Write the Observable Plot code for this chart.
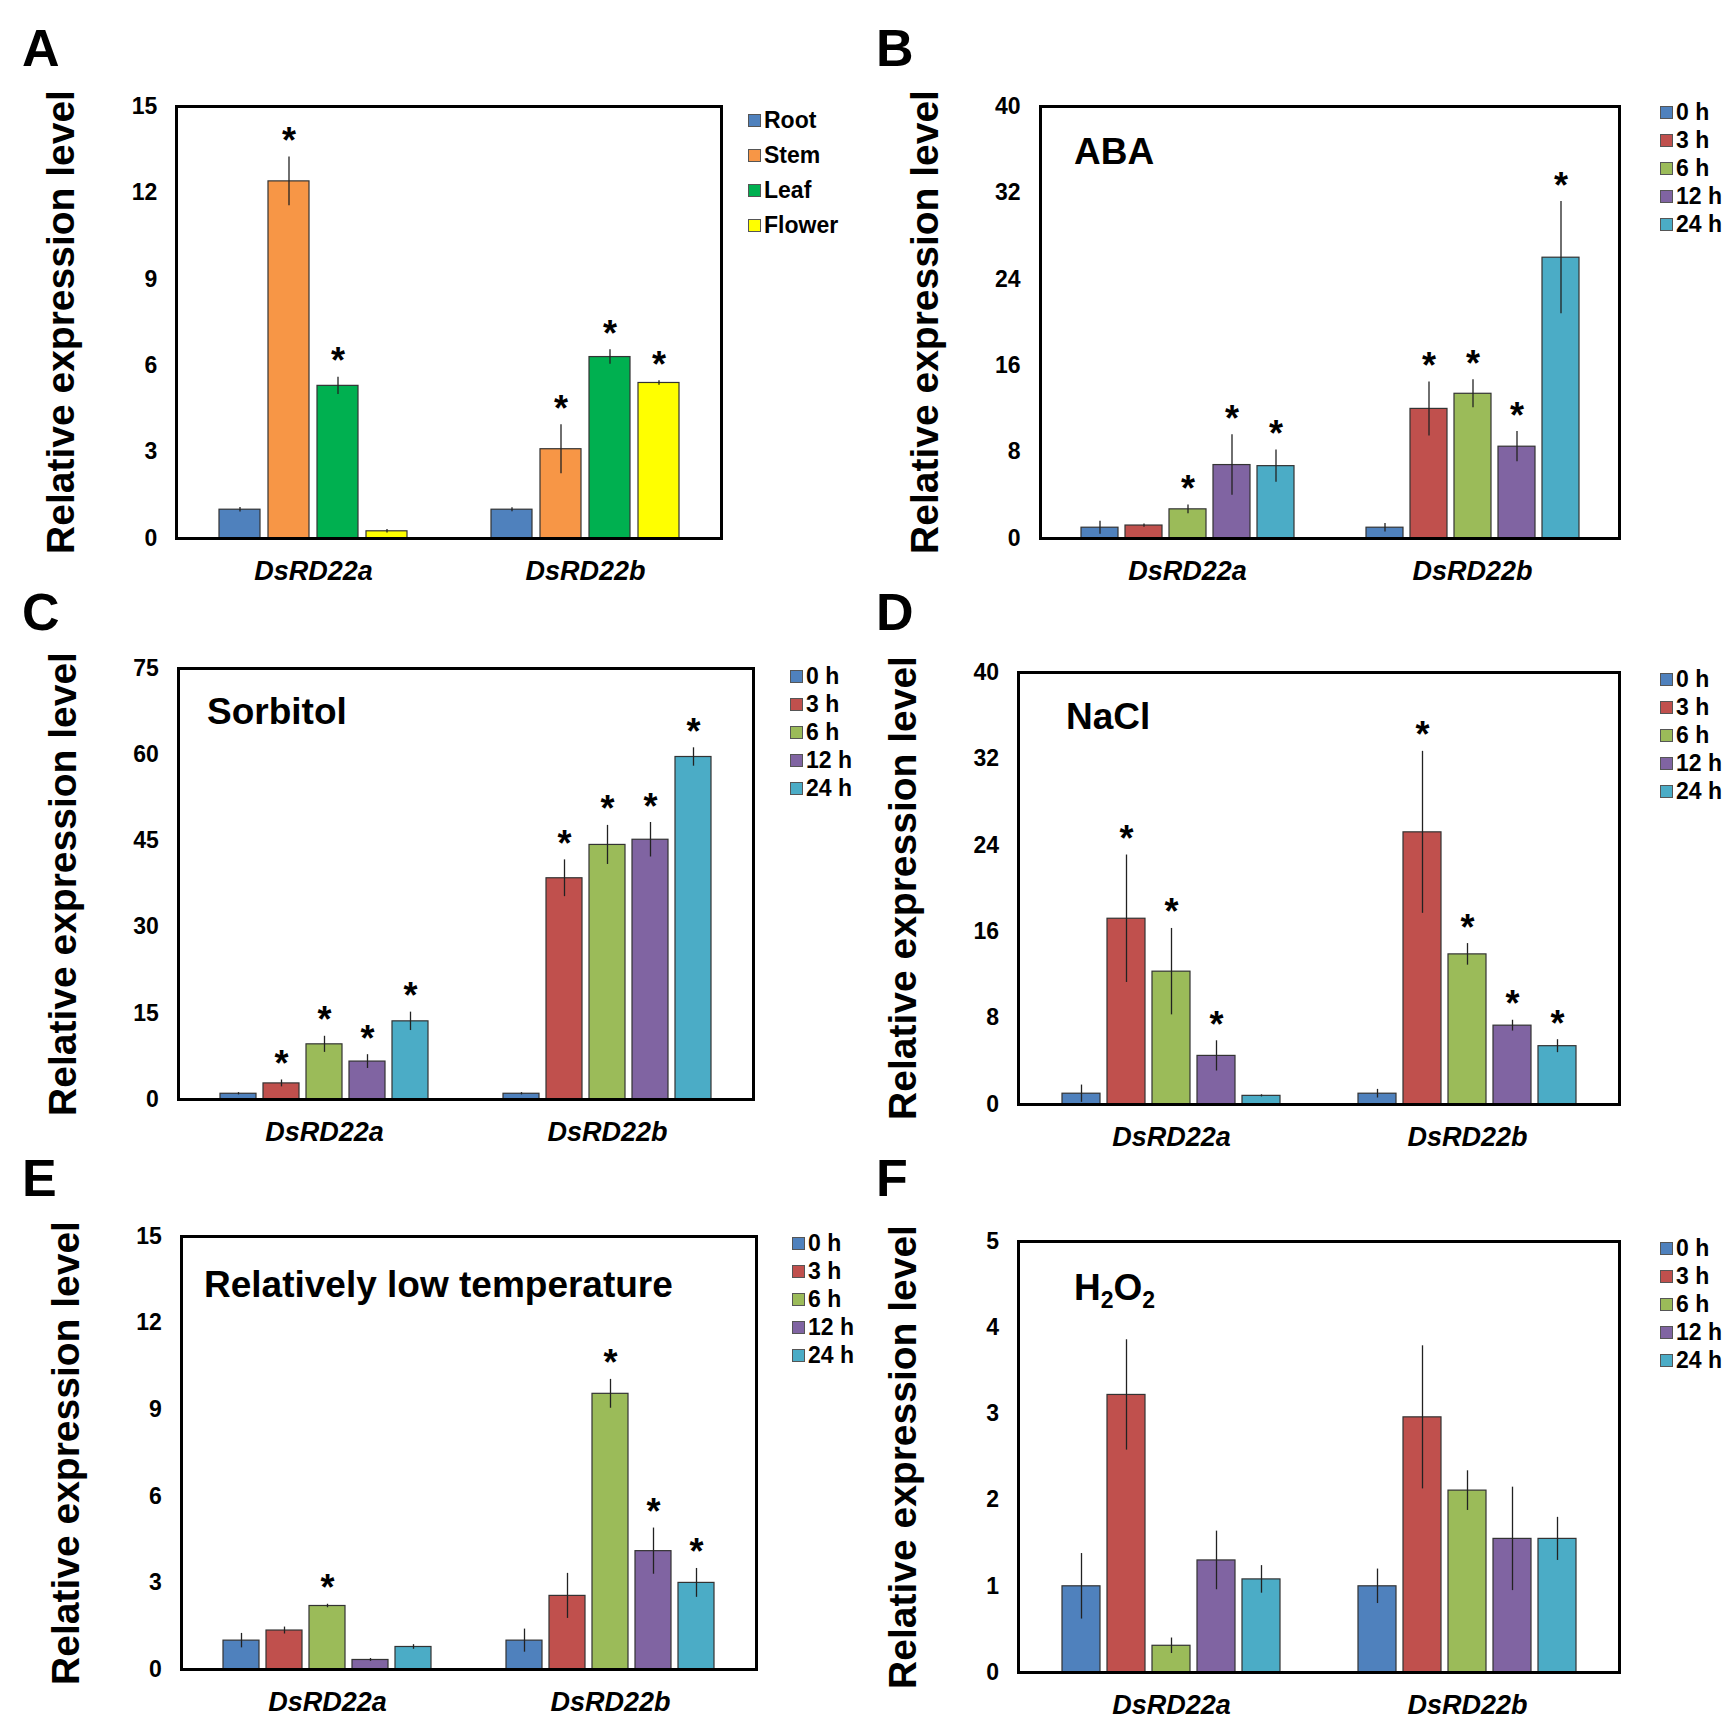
<!DOCTYPE html>
<html><head><meta charset="utf-8">
<script src="https://cdn.jsdelivr.net/npm/d3@7"></script>
<script src="https://cdn.jsdelivr.net/npm/@observablehq/plot@0.6"></script>
<style>
body{margin:0;background:#fff;font-family:"Liberation Sans",Arial,sans-serif;}
#root{position:relative;width:1736px;height:1727px;}
.abs{position:absolute;}
.letter{font-weight:bold;font-size:52px;}
.ylab{font-weight:bold;font-size:39px;transform:translate(-50%,-50%) rotate(-90deg);white-space:nowrap;}
.title{font-weight:bold;font-size:37px;}
.frame{border:3px solid #000;box-sizing:border-box;pointer-events:none;}
.leg{font-weight:bold;font-size:23px;line-height:28px;}
.leg span.sw{display:inline-block;width:11px;height:11px;border:1px solid #555;margin-right:3px;vertical-align:1px;}
svg [aria-label="fx-axis tick label"] text{font-style:italic;}
</style></head><body><div id="root"></div>
<script>
const genes = ["DsRD22a","DsRD22b"];
const tissues = ["Root","Stem","Leaf","Flower"];
const tissueColors = ["#4f81bd","#f79646","#00b050","#ffff00"];
const times = ["0 h","3 h","6 h","12 h","24 h"];
const timeColors = ["#4f81bd","#c0504d","#9bbb59","#8064a2","#4bacc6"];

// values [gene a, gene b], errors, significance
const A_val = [[1.0,12.4,5.3,0.25],[1.0,3.1,6.3,5.4]];
const A_err = [[0.08,0.85,0.3,0.06],[0.07,0.85,0.25,0.08]];
const A_sig = [[0,1,1,0],[0,1,1,1]];
const B_val = [[1.0,1.2,2.7,6.8,6.7],[1.0,12.0,13.4,8.5,26.0]];
const B_err = [[0.6,0.15,0.4,2.8,1.5],[0.4,2.5,1.3,1.4,5.2]];
const B_sig = [[0,0,1,1,1],[0,1,1,1,1]];
const C_val = [[1.0,2.8,9.6,6.6,13.6],[1.0,38.5,44.3,45.2,59.6]];
const C_err = [[0.2,0.6,1.4,1.2,1.6],[0.2,3.2,3.4,3.0,1.6]];
const C_sig = [[0,1,1,1,1],[0,1,1,1,1]];
const D_val = [[1.0,17.2,12.3,4.5,0.8],[1.0,25.2,13.9,7.3,5.4]];
const D_err = [[0.8,5.9,4.0,1.4,0.1],[0.4,7.5,1.0,0.5,0.6]];
const D_sig = [[0,1,1,1,0],[0,1,1,1,1]];
const E_val = [[1.0,1.35,2.2,0.33,0.78],[1.0,2.55,9.55,4.1,3.0]];
const E_err = [[0.25,0.12,0.06,0.05,0.08],[0.4,0.78,0.5,0.8,0.5]];
const E_sig = [[0,0,1,0,0],[0,0,1,1,1]];
const F_val = [[1.0,3.22,0.31,1.3,1.08],[1.0,2.96,2.11,1.55,1.55]];
const F_err = [[0.38,0.64,0.09,0.34,0.16],[0.2,0.83,0.23,0.6,0.25]];
const F_sig = [[0,0,0,0,0],[0,0,0,0,0]];

const root = document.getElementById("root");
function div(cls, x, y, html, extra){const d=document.createElement("div");d.className="abs "+cls;d.style.left=x+"px";d.style.top=y+"px";d.innerHTML=html;if(extra)Object.assign(d.style,extra);root.appendChild(d);return d;}

function panel(p){
  const ML=130, MT=10, MR=10, MB=60;
  const fw=p.R-p.L, fh=p.B-p.T;
  const rows=[];
  genes.forEach((g,gi)=>p.cats.forEach((c,ci)=>rows.push({gene:g,cat:c,v:p.val[gi][ci],e:p.err[gi][ci],s:p.sig[gi][ci]})));
  const n=p.cats.length;
  const pi=n===4?0.31:0.25, po=n===4?0.155:0.14;
  const step=fw/(2-pi+2*po), outer=po*step;
  const chart=Plot.plot({
    width:fw+ML+MR,height:fh+MT+MB,marginLeft:ML,marginRight:MR,marginTop:MT,marginBottom:MB,
    style:{fontFamily:"Liberation Sans, Arial, sans-serif",fontWeight:"bold",fontSize:"23px",color:"#000"},
    fx:{domain:genes,paddingInner:pi,paddingOuter:po,label:null},
    x:{domain:p.cats,paddingInner:n===4?0.17:0.16,paddingOuter:0,axis:null},
    y:{domain:[0,p.max],ticks:p.ticks,label:null},
    color:{domain:p.cats,range:p.colors},
    marks:[
      Plot.axisY({ticks:p.ticks,tickFormat:d=>String(d),tickSize:0,tickPadding:20+outer,fontSize:23,label:null}),
      Plot.axisFx({anchor:"bottom",tickSize:0,tickPadding:22,fontSize:27,label:null}),
      Plot.barY(rows,{fx:"gene",x:"cat",y:"v",fill:"cat",stroke:"#333",strokeWidth:1.2}),
      Plot.ruleX(rows,{fx:"gene",x:"cat",y1:d=>Math.max(0,d.v-d.e),y2:d=>d.v+d.e,stroke:"#222",strokeWidth:1.3}),
      Plot.ruleY(rows,{fx:"gene",x:"cat",y:d=>d.v+d.e,stroke:"#222",strokeWidth:1.3,insetLeft:n===4?20:22,insetRight:n===4?20:22}),
      Plot.ruleY(rows,{fx:"gene",x:"cat",y:d=>Math.max(0,d.v-d.e),stroke:"#222",strokeWidth:1.3,insetLeft:n===4?20:22,insetRight:n===4?20:22}),
      Plot.text(rows.filter(d=>d.s),{fx:"gene",x:"cat",y:d=>d.v+d.e,text:()=>"*",fontSize:36,fontWeight:"bold",dy:-4,lineAnchor:"bottom",fill:"#000"})
    ]
  });
  chart.style.position="absolute";chart.style.left=(p.L-ML)+"px";chart.style.top=(p.T-MT)+"px";
  root.appendChild(chart);
  div("frame",p.L-1,p.T-1,"",{width:(fw+3)+"px",height:(fh+3)+"px"});
  div("ylab",p.L-115,(p.T+p.B)/2,"Relative expression level");
  div("letter",p.letterX,p.letterY,p.letter);
  if(p.title) div("title",p.titleX,p.titleY,p.title);
  const leg=div("leg",p.legX,p.legY,p.cats.map((c,i)=>`<div><span class="sw" style="background:${p.colors[i]}"></span>${c}</div>`).join(""));
  if(p.legLH) leg.style.lineHeight=p.legLH+"px";
}

panel({letter:"A",letterX:22,letterY:18,L:176,T:106,R:721,B:538,cats:tissues,colors:tissueColors,val:A_val,err:A_err,sig:A_sig,max:15,ticks:[0,3,6,9,12,15],legX:748,legY:103,legLH:35});
panel({letter:"B",letterX:876,letterY:18,L:1040,T:106,R:1619,B:538,cats:times,colors:timeColors,val:B_val,err:B_err,sig:B_sig,max:40,ticks:[0,8,16,24,32,40],legX:1660,legY:98,title:"ABA",titleX:1074,titleY:131});
panel({letter:"C",letterX:22,letterY:582,L:178,T:668,R:753,B:1099,cats:times,colors:timeColors,val:C_val,err:C_err,sig:C_sig,max:75,ticks:[0,15,30,45,60,75],legX:790,legY:662,title:"Sorbitol",titleX:207,titleY:691});
panel({letter:"D",letterX:876,letterY:582,L:1018,T:672,R:1619,B:1104,cats:times,colors:timeColors,val:D_val,err:D_err,sig:D_sig,max:40,ticks:[0,8,16,24,32,40],legX:1660,legY:665,title:"NaCl",titleX:1066,titleY:696});
panel({letter:"E",letterX:22,letterY:1148,L:181,T:1236,R:756,B:1669,cats:times,colors:timeColors,val:E_val,err:E_err,sig:E_sig,max:15,ticks:[0,3,6,9,12,15],legX:792,legY:1229,title:"Relatively low temperature",titleX:204,titleY:1264});
panel({letter:"F",letterX:876,letterY:1148,L:1018,T:1241,R:1619,B:1672,cats:times,colors:timeColors,val:F_val,err:F_err,sig:F_sig,max:5,ticks:[0,1,2,3,4,5],legX:1660,legY:1234,title:"H<sub style='font-size:23px'>2</sub>O<sub style='font-size:23px'>2</sub>",titleX:1074,titleY:1267});
</script></body></html>
